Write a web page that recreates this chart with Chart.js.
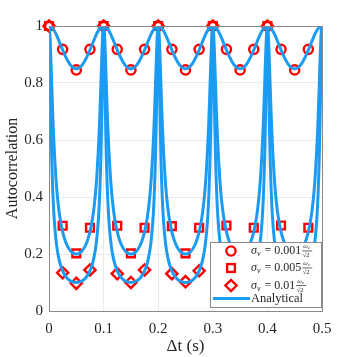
<!DOCTYPE html>
<html>
<head>
<meta charset="utf-8">
<script src="https://cdn.jsdelivr.net/npm/chart.js@4.4.1/dist/chart.umd.min.js"></script>
<style>
  html, body { margin: 0; padding: 0; background: #fff; }
  canvas { display: block; }
</style>
</head>
<body>
<canvas id="chart" width="357" height="357"></canvas>
<script>
// one half period of the analytical curves (offset in s)
const halfT = [0, 0.001, 0.002, 0.003, 0.004, 0.005, 0.006, 0.007, 0.008, 0.010, 0.0125, 0.015, 0.0175, 0.020, 0.025, 0.030, 0.035, 0.040, 0.045, 0.050];
const curve001 = [1, 0.9998, 0.9992, 0.9983, 0.9970, 0.9953, 0.9933, 0.9910, 0.9883, 0.9822, 0.9730, 0.9626, 0.9514, 0.9396, 0.9159, 0.8940, 0.8754, 0.8615, 0.8529, 0.85];
const curve005 = [1, 0.9884, 0.9558, 0.9082, 0.8522, 0.7937, 0.7366, 0.6833, 0.6344, 0.5512, 0.4707, 0.4101, 0.3639, 0.3281, 0.2774, 0.2446, 0.2233, 0.2098, 0.2024, 0.20];
const curve01 = [1, 0.9545, 0.8481, 0.7300, 0.6256, 0.5405, 0.4726, 0.4185, 0.3747, 0.3093, 0.2541, 0.2162, 0.1889, 0.1685, 0.1407, 0.1233, 0.1121, 0.1051, 0.1012, 0.10];
const period = 0.1;
const nPeriods = 5;

// simulated points
const markerT = [0, 0.025, 0.05, 0.075, 0.1, 0.125, 0.15, 0.175, 0.2, 0.225, 0.25, 0.275, 0.3, 0.325, 0.35, 0.375, 0.4, 0.425, 0.45, 0.475];
const circles = [1, 0.918, 0.846, 0.918, 1, 0.918, 0.846, 0.918, 1, 0.918, 0.846, 0.918, 1, 0.918, 0.846, 0.918, 1, 0.918, 0.846, 0.918];
const squares = [1, 0.299, 0.202, 0.292, 1, 0.299, 0.202, 0.292, 1, 0.298, 0.202, 0.292, 1, 0.300, 0.200, 0.292, 1, 0.300, 0.200, 0.292];
const diamonds = [1, 0.134, 0.097, 0.144, 1, 0.131, 0.100, 0.144, 1, 0.131, 0.103, 0.141, 1, 0.134, 0.100, 0.142, 1, 0.134, 0.100, 0.142];

const xTicks = [0, 0.1, 0.2, 0.3, 0.4, 0.5];
const yTicks = [0, 0.2, 0.4, 0.6, 0.8, 1];

const legendLabels = ['0.001', '0.005', '0.01'];

const blue = '#1b9bf2';
const red = '#ff0000';
const serif = "'Liberation Serif', 'DejaVu Serif', serif";

// repeat the half period mirrored over every period
function buildCurve(vals) {
    let pts = [];
    for (let k = 0; k < nPeriods; k++) {
        for (let i = 0; i < halfT.length; i++) {
            pts.push({x: k * period + halfT[i], y: vals[i]});
        }
        for (let i = halfT.length - 2; i >= 1; i--) {
            pts.push({x: k * period + period - halfT[i], y: vals[i]});
        }
    }
    pts.push({x: nPeriods * period, y: vals[0]});
    return pts;
}

function points(vals) {
    return markerT.map((t, i) => ({x: t, y: vals[i]}));
}

function lineSet(vals) {
    return {
        type: 'line',
        data: buildCurve(vals),
        borderColor: blue,
        borderWidth: 3,
        pointRadius: 0,
        fill: false,
        cubicInterpolationMode: 'monotone',
        order: 0
    };
}

function markerSet(vals, style, r) {
    return {
        type: 'line',
        data: points(vals),
        showLine: false,
        pointStyle: style,
        pointRadius: r,
        borderColor: red,
        backgroundColor: 'rgba(0,0,0,0)',
        pointBorderWidth: 2.4,
        clip: false,
        order: 1
    };
}

// box around the plot + legend in the lower right corner
const frameAndLegend = {
    id: 'frameAndLegend',
    afterDatasetsDraw(chart) {
        const ctx = chart.ctx;
        const a = chart.chartArea;
        ctx.save();
        ctx.strokeStyle = '#8a8a8a';
        ctx.lineWidth = 1;
        ctx.strokeRect(Math.round(a.left) + 0.5, Math.round(a.top) + 0.5, Math.round(a.right - a.left), Math.round(a.bottom - a.top));
        ctx.restore();
    },
    afterDraw(chart) {
        const ctx = chart.ctx;
        ctx.save();
        const bx = 210.5, by = 242.5, bw = 111, bh = 65;
        ctx.fillStyle = '#fff';
        ctx.fillRect(bx, by, bw, bh);
        ctx.strokeStyle = '#8a8a8a';
        ctx.lineWidth = 1;
        ctx.strokeRect(bx, by, bw, bh);

        const mx = 231;
        const rows = [251, 268, 285.5];
        ctx.strokeStyle = red;
        ctx.lineWidth = 2.4;
        // circle
        ctx.beginPath();
        ctx.arc(mx, rows[0], 4.6, 0, Math.PI * 2);
        ctx.stroke();
        // square
        ctx.strokeRect(mx - 3.9, rows[1] - 3.9, 7.8, 7.8);
        // diamond
        ctx.beginPath();
        ctx.moveTo(mx, rows[2] - 5.6);
        ctx.lineTo(mx + 5.6, rows[2]);
        ctx.lineTo(mx, rows[2] + 5.6);
        ctx.lineTo(mx - 5.6, rows[2]);
        ctx.closePath();
        ctx.stroke();
        // line
        ctx.strokeStyle = blue;
        ctx.lineWidth = 3;
        ctx.beginPath();
        ctx.moveTo(213, 298.5);
        ctx.lineTo(250, 298.5);
        ctx.stroke();

        ctx.fillStyle = '#262626';
        ctx.textBaseline = 'middle';
        ctx.textAlign = 'left';
        rows.forEach((y, i) => {
            let x = 251;
            ctx.font = 'italic 12px ' + serif;
            ctx.fillText('σ', x, y);
            x += ctx.measureText('σ').width;
            ctx.font = 'italic 8px ' + serif;
            ctx.fillText('v', x, y + 3);
            x += ctx.measureText('v').width + 1;
            ctx.font = '12px ' + serif;
            const s = ' = ' + legendLabels[i];
            ctx.fillText(s, x, y);
            x += ctx.measureText(s).width + 1;
            // fraction wc / sqrt2
            ctx.font = 'italic 6.5px ' + serif;
            const top = 'ω';
            const tw = ctx.measureText(top).width;
            ctx.fillText(top, x + 1, y - 4.5);
            ctx.font = 'italic 5px ' + serif;
            ctx.fillText('c', x + 1 + tw, y - 3);
            ctx.font = '6.5px ' + serif;
            ctx.fillText('√2', x + 0.5, y + 4.5);
            ctx.fillRect(x, y - 0.4, 10, 0.7);
        });
        ctx.font = '12.5px ' + serif;
        ctx.fillText('Analytical', 251, 298.5);
        ctx.restore();
    }
};

const ctx = document.getElementById('chart').getContext('2d');
new Chart(ctx, {
    type: 'line',
    data: {
        datasets: [
            lineSet(curve001),
            lineSet(curve005),
            lineSet(curve01),
            markerSet(circles, 'circle', 4.6),
            markerSet(squares, 'rect', 5.5),
            markerSet(diamonds, 'rectRot', 5.6)
        ]
    },
    options: {
        responsive: false,
        animation: false,
        devicePixelRatio: 1,
        layout: { padding: { top: 26, right: 35, left: 0, bottom: 0 } },
        plugins: {
            legend: { display: false },
            tooltip: { enabled: false }
        },
        scales: {
            x: {
                type: 'linear',
                min: 0,
                max: 0.5,
                afterBuildTicks: scale => { scale.ticks = xTicks.map(v => ({value: v})); },
                ticks: {
                    callback: v => String(+v.toFixed(1)),
                    font: { family: serif, size: 15 },
                    color: '#262626',
                    padding: 9,
                    maxRotation: 0
                },
                grid: { color: '#ebebeb', drawTicks: false },
                border: { display: false },
                title: {
                    display: true,
                    text: 'Δt (s)',
                    font: { family: serif, size: 17 },
                    color: '#262626',
                    padding: { top: 0, bottom: 0 }
                },
                afterFit: scale => { scale.height = 46; }
            },
            y: {
                min: 0,
                max: 1,
                afterBuildTicks: scale => { scale.ticks = yTicks.map(v => ({value: v})); },
                ticks: {
                    callback: v => String(+v.toFixed(1)),
                    font: { family: serif, size: 15 },
                    color: '#262626',
                    padding: 6
                },
                grid: { color: '#ebebeb', drawTicks: false },
                border: { display: false },
                title: {
                    display: true,
                    text: 'Autocorrelation',
                    font: { family: serif, size: 16 },
                    color: '#262626',
                    padding: { top: 3, bottom: 0 }
                },
                afterFit: scale => { scale.width = 49; }
            }
        }
    },
    plugins: [frameAndLegend]
});
</script>
</body>
</html>
